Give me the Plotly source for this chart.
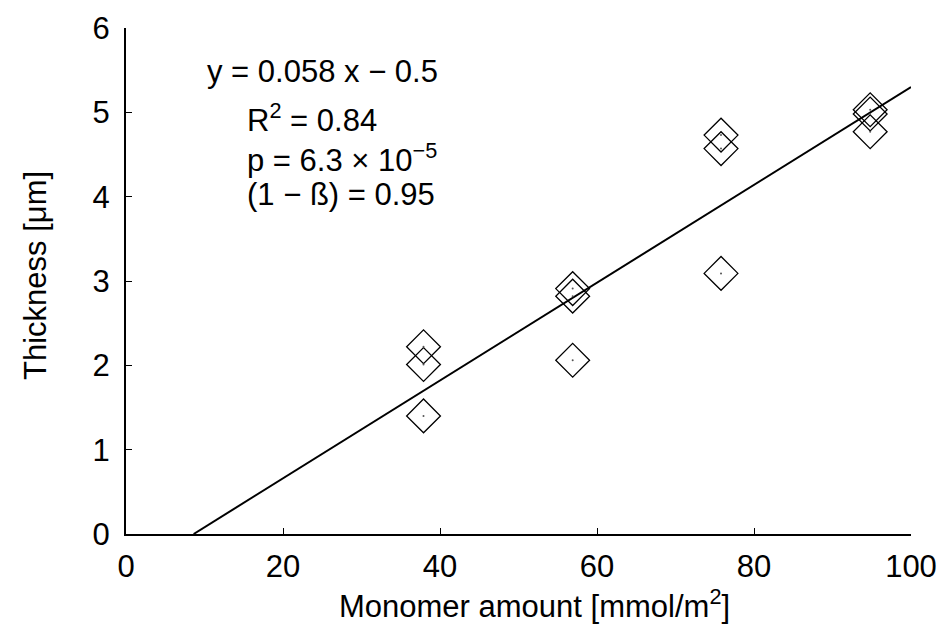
import plotly.graph_objects as go

# Data
monomer_amount = [37.9, 37.9, 37.9, 56.9, 56.9, 56.9, 75.8, 75.8, 75.8, 94.8, 94.8, 94.8]
thickness = [2.22, 2.01, 1.40, 2.91, 2.82, 2.06, 4.73, 4.57, 3.09, 5.03, 4.98, 4.77]

fit_slope = 0.058
fit_intercept = -0.5
fit_x_end = 100

x_ticks = [0, 20, 40, 60, 80, 100]
y_ticks = [0, 1, 2, 3, 4, 5, 6]

x_title = "Monomer amount [mmol/m<sup>2</sup>]"
y_title = "Thickness [μm]"

fit_x = [-fit_intercept / fit_slope, fit_x_end]
fit_y = [fit_slope * v + fit_intercept for v in fit_x]

FONT = "Liberation Sans, Arial, sans-serif"
FS = 31

fig = go.Figure()
fig.add_trace(go.Scatter(x=fit_x, y=fit_y, mode="lines",
                         line=dict(color="black", width=2), showlegend=False))
fig.add_trace(go.Scatter(x=monomer_amount, y=thickness, mode="markers",
                         marker=dict(symbol="diamond-open", size=26,
                                     color="black", line=dict(width=1.3, color="black")),
                         showlegend=False))
fig.add_trace(go.Scatter(x=monomer_amount, y=thickness, mode="markers",
                         marker=dict(symbol="circle", size=2, color="#555"),
                         showlegend=False))

ann_lines = [
    ("y = 0.058 x − 0.5", 10.06, 5.48),
    ("R<sup>2</sup> = 0.84", 15.16, 4.93),
    ("p = 6.3 × 10<sup>−5</sup>", 15.16, 4.46),
    ("(1 − ß) = 0.95", 15.16, 4.02),
]
for txt, ax, ay in ann_lines:
    fig.add_annotation(x=ax, y=ay, xref="x", yref="y", text=txt, showarrow=False,
                       xanchor="left", yanchor="middle",
                       font=dict(family=FONT, size=FS, color="black"))

# axis titles
fig.add_annotation(x=0.52, y=-0.139, xref="paper", yref="paper", text=x_title,
                   showarrow=False, xanchor="center", yanchor="middle",
                   font=dict(family=FONT, size=FS, color="black"))
fig.add_annotation(x=-0.1146, y=0.51, xref="paper", yref="paper", text=y_title,
                   showarrow=False, xanchor="center", yanchor="middle", textangle=-90,
                   font=dict(family=FONT, size=FS, color="black"))

fig.update_layout(
    width=946, height=626,
    margin=dict(l=118, r=43, t=20, b=100),
    paper_bgcolor="white", plot_bgcolor="white",
    font=dict(family=FONT, size=FS, color="black"),
)
fig.update_xaxes(range=[0, 100], tickvals=x_ticks, ticks="inside", ticklen=6,
                 tickwidth=1, tickcolor="black", showline=True, linecolor="black",
                 linewidth=2, showgrid=False, zeroline=False, automargin=False,
                 tickfont=dict(size=FS), ticklabelstandoff=4)
fig.update_yaxes(range=[0, 6], tickvals=y_ticks, ticks="inside", ticklen=6,
                 tickwidth=1, tickcolor="black", showline=True, linecolor="black",
                 linewidth=2, showgrid=False, zeroline=False, automargin=False,
                 tickfont=dict(size=FS), ticklabelstandoff=8)

fig.write_html("out.html")
